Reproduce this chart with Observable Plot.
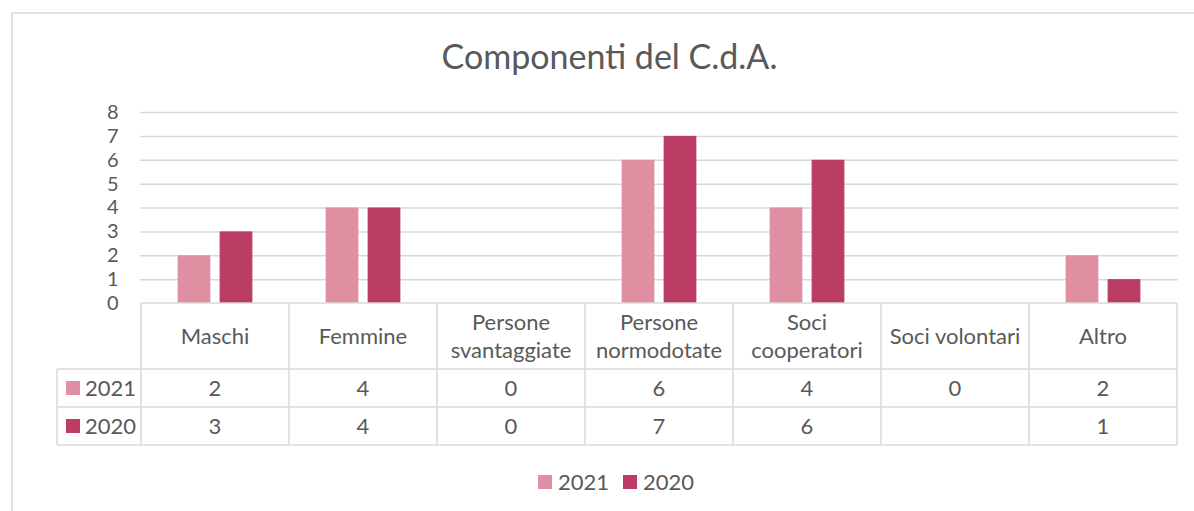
<!DOCTYPE html>
<html>
<head>
<meta charset="utf-8">
<script src="https://cdn.jsdelivr.net/npm/d3@7"></script>
<script src="https://cdn.jsdelivr.net/npm/@observablehq/plot@0.6"></script>
<style>
  html, body { margin: 0; padding: 0; background: #fff; }
  #chart { width: 1194px; height: 511px; overflow: hidden; }
</style>
</head>
<body>
<div id="chart"></div>
<script>
// ---- data ----
const title = "Componenti del C.d.A.";
const categories = ["Maschi", "Femmine", "Persone svantaggiate", "Persone normodotate", "Soci cooperatori", "Soci volontari", "Altro"];
const headerLabels = ["Maschi", "Femmine", "Persone\nsvantaggiate", "Persone\nnormodotate", "Soci\ncooperatori", "Soci volontari", "Altro"];
const seriesNames = ["2021", "2020"];
const values2021 = [2, 4, 0, 6, 4, 0, 2];
const values2020 = [3, 4, 0, 7, 6, null, 1];
const yTicks = [0, 1, 2, 3, 4, 5, 6, 7, 8];
const seriesColors = ["#E08FA2", "#BC3D63"];

// ---- build rows ----
const rows2021 = categories.map((c, i) => ({category: c, series: "2021", value: values2021[i]}));
const rows2020 = categories.map((c, i) => ({category: c, series: "2020", value: values2020[i]}));

const W = 1194, H = 511;
const mL = 140, mR = 16, mT = 112, mB = 208;
const bw = (W - mL - mR) / categories.length;
const barW = 33, gap = 9;
const outer = (bw - 2 * barW - gap) / 2;
const textColor = "#595959";
const lineColor = "#d9d9d9";
const font = "Lato, 'Open Sans', sans-serif";
const fs = 22;

const plot = Plot.plot({
  width: W, height: H,
  marginLeft: mL, marginRight: mR, marginTop: mT, marginBottom: mB,
  style: {fontFamily: font, fontSize: fs + "px", color: textColor, background: "#fff"},
  x: {domain: categories, paddingInner: 0, paddingOuter: 0, axis: null},
  y: {domain: [0, 8], axis: null},
  color: {domain: seriesNames, range: seriesColors},
  marks: [
    Plot.gridY(yTicks.filter(d => d > 0), {stroke: lineColor, strokeOpacity: 1, strokeWidth: 1.5}),
    Plot.axisY({ticks: yTicks, tickSize: 0, tickPadding: 22, fontSize: 20, fill: textColor, label: null, tickFormat: d => String(d)}),
    Plot.barY(rows2021.filter(d => d.value != null), {x: "category", y: "value", fill: "series", insetLeft: outer, insetRight: outer + barW + gap}),
    Plot.barY(rows2020.filter(d => d.value != null), {x: "category", y: "value", fill: "series", insetLeft: outer + barW + gap, insetRight: outer}),
    Plot.text([title], {text: d => d, frameAnchor: "top", dx: -50, dy: -68, fontSize: 34, fill: textColor})
  ]
});

document.getElementById("chart").appendChild(plot);

// ---- data table & legend drawn with the plot's own scales ----
const xs = plot.scale("x");
const ys = plot.scale("y");
const cs = plot.scale("color");
const svg = d3.select(plot);

const y0 = ys.apply(0);
const headerH = 66, rowH = 38;
const yRow1 = y0 + headerH, yRow2 = yRow1 + rowH, yEnd = yRow2 + rowH;
const xStart = xs.apply(categories[0]);
const xEnd = xs.apply(categories[categories.length - 1]) + xs.bandwidth;
const legendColX = 57;

// chart frame
svg.insert("rect", ":first-child")
  .attr("x", 12).attr("y", 13).attr("width", 1300).attr("height", 600)
  .attr("fill", "none").attr("stroke", lineColor).attr("stroke-width", 1.5);

const g = svg.append("g").attr("stroke", lineColor).attr("stroke-width", 1.5);
// horizontal lines
g.append("line").attr("x1", xStart).attr("x2", xEnd).attr("y1", y0).attr("y2", y0);
[yRow1, yRow2, yEnd].forEach(y => g.append("line").attr("x1", legendColX).attr("x2", xEnd).attr("y1", y).attr("y2", y));
// vertical lines
const bounds = categories.map(c => xs.apply(c)).concat([xEnd]);
bounds.forEach(x => g.append("line").attr("x1", x).attr("x2", x).attr("y1", y0).attr("y2", yEnd));
g.append("line").attr("x1", legendColX).attr("x2", legendColX).attr("y1", yRow1).attr("y2", yEnd);

const t = svg.append("g").attr("fill", textColor).attr("font-family", font).attr("font-size", fs).attr("text-anchor", "middle");
// header labels
headerLabels.forEach((lab, i) => {
  const cx = xs.apply(categories[i]) + xs.bandwidth / 2;
  const lines = lab.split("\n");
  const lh = 28;
  const cy = y0 + headerH / 2;
  lines.forEach((ln, j) => {
    t.append("text").attr("x", cx).attr("y", cy + (j - (lines.length - 1) / 2) * lh).attr("dy", "0.35em").text(ln);
  });
});
// value rows
[[values2021, yRow1], [values2020, yRow2]].forEach(([vals, top]) => {
  vals.forEach((v, i) => {
    if (v == null) return;
    const cx = xs.apply(categories[i]) + xs.bandwidth / 2;
    t.append("text").attr("x", cx).attr("y", top + rowH / 2).attr("dy", "0.35em").text(String(v));
  });
});
// row legend keys
const lg = svg.append("g").attr("text-anchor", "start").attr("fill", textColor).attr("font-family", font).attr("font-size", fs);
seriesNames.forEach((s, i) => {
  const top = i === 0 ? yRow1 : yRow2;
  const cy = top + rowH / 2;
  lg.append("rect").attr("x", 66).attr("y", cy - 7).attr("width", 14).attr("height", 14).attr("fill", cs.apply(s));
  lg.append("text").attr("x", 85).attr("y", cy).attr("dy", "0.35em").text(s);
});
// bottom legend
const legendY = 482;
const legendX = [538, 623];
seriesNames.forEach((s, i) => {
  lg.append("rect").attr("x", legendX[i]).attr("y", legendY - 7).attr("width", 14).attr("height", 14).attr("fill", cs.apply(s));
  lg.append("text").attr("x", legendX[i] + 20).attr("y", legendY).attr("dy", "0.35em").text(s);
});
</script>
</body>
</html>
